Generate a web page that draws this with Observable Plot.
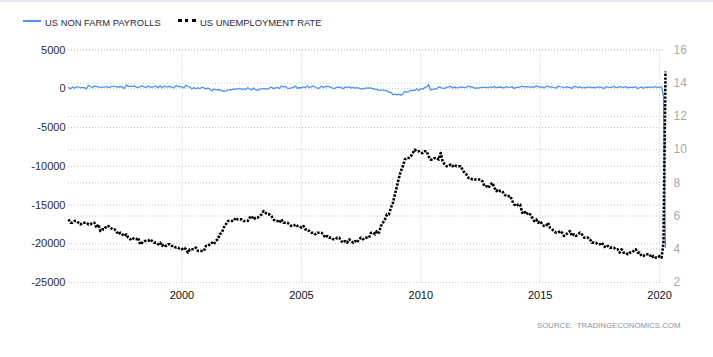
<!DOCTYPE html>
<html>
<head>
<meta charset="utf-8">
<script src="https://cdn.jsdelivr.net/npm/d3@7"></script>
<script src="https://cdn.jsdelivr.net/npm/@observablehq/plot@0.6"></script>
<style>
  html, body { margin: 0; padding: 0; background: #fff; }
  body { width: 713px; height: 357px; position: relative; overflow: hidden; font-family: "Liberation Sans", Arial, sans-serif; }
  #topbar { position: absolute; left: 0; top: 0; width: 713px; height: 2px; background: #e6e6ee; }
  .leg { position: absolute; top: 17px; font-size: 9.4px; color: #2a2a40; line-height: 11px; white-space: nowrap; }
  .sw { position: absolute; height: 0; }
  #chart { position: absolute; left: 0; top: 40px; }
  #source { position: absolute; left: 537px; top: 321px; font-size: 7.8px; color: #8a93a3; white-space: nowrap; }
</style>
</head>
<body>
<div id="topbar"></div>
<div class="sw" style="left:23px;top:19.5px;width:18px;border-top:2px solid #4f94ea;"></div>
<div class="leg" id="leg1" style="left:45px;"></div>
<div class="sw" style="left:178px;top:18.5px;width:18px;border-top:3px dotted #000;"></div>
<div class="leg" id="leg2" style="left:200px;"></div>
<div id="chart"></div>
<div id="source">SOURCE:&nbsp;&nbsp;TRADINGECONOMICS.COM</div>
<script>
// Series names
const seriesNames = ["US NON FARM PAYROLLS", "US UNEMPLOYMENT RATE"];
// First month of the data (year, month index 0-based)
const startYear = 1995, startMonth = 3;

// US unemployment rate, % (monthly, Apr 1995 - Apr 2020)
const unemployment = [
  5.8, 5.6, 5.6, 5.7, 5.7, 5.6, 5.5, 5.6, 5.6,
  5.6, 5.5, 5.5, 5.6, 5.6, 5.3, 5.5, 5.1, 5.2, 5.2, 5.4, 5.4,
  5.3, 5.2, 5.2, 5.1, 4.9, 5.0, 4.9, 4.8, 4.9, 4.7, 4.6, 4.7,
  4.6, 4.6, 4.7, 4.3, 4.4, 4.5, 4.5, 4.5, 4.6, 4.5, 4.4, 4.4,
  4.3, 4.4, 4.2, 4.3, 4.2, 4.3, 4.3, 4.2, 4.2, 4.1, 4.1, 4.0,
  4.0, 4.1, 4.0, 3.8, 4.0, 4.0, 4.0, 4.1, 3.9, 3.9, 3.9, 3.9,
  4.2, 4.2, 4.3, 4.4, 4.3, 4.5, 4.6, 4.9, 5.0, 5.3, 5.5, 5.7,
  5.7, 5.7, 5.7, 5.9, 5.8, 5.8, 5.8, 5.7, 5.7, 5.7, 5.9, 6.0,
  5.8, 5.9, 5.9, 6.0, 6.1, 6.3, 6.2, 6.1, 6.1, 6.0, 5.8, 5.7,
  5.7, 5.6, 5.8, 5.6, 5.6, 5.6, 5.5, 5.4, 5.4, 5.5, 5.4, 5.4,
  5.3, 5.4, 5.2, 5.2, 5.1, 5.0, 5.0, 4.9, 5.0, 5.0, 5.0, 4.9,
  4.7, 4.8, 4.7, 4.7, 4.6, 4.6, 4.7, 4.7, 4.5, 4.4, 4.5, 4.4,
  4.6, 4.5, 4.4, 4.5, 4.4, 4.6, 4.7, 4.6, 4.7, 4.7, 4.7, 5.0,
  5.0, 4.9, 5.1, 5.0, 5.4, 5.6, 5.8, 6.1, 6.1, 6.5, 6.8, 7.3,
  7.8, 8.3, 8.7, 9.0, 9.4, 9.5, 9.5, 9.6, 9.8, 10.0, 9.9, 9.9,
  9.8, 9.8, 9.9, 9.9, 9.6, 9.4, 9.4, 9.5, 9.5, 9.4, 9.8, 9.3,
  9.1, 9.0, 9.0, 9.1, 9.0, 9.1, 9.0, 9.0, 9.0, 8.8, 8.6, 8.5,
  8.3, 8.3, 8.2, 8.2, 8.2, 8.2, 8.2, 8.1, 7.8, 7.8, 7.7, 7.9,
  8.0, 7.7, 7.5, 7.6, 7.5, 7.5, 7.3, 7.2, 7.2, 7.2, 6.9, 6.7,
  6.6, 6.7, 6.7, 6.2, 6.3, 6.1, 6.2, 6.1, 5.9, 5.7, 5.8, 5.6,
  5.7, 5.5, 5.4, 5.4, 5.6, 5.3, 5.2, 5.1, 5.0, 5.0, 5.1, 5.0,
  4.8, 4.9, 5.0, 5.1, 4.8, 4.9, 4.8, 4.9, 5.0, 4.9, 4.7, 4.7,
  4.7, 4.6, 4.4, 4.4, 4.4, 4.3, 4.3, 4.4, 4.2, 4.1, 4.2, 4.1,
  4.1, 4.1, 4.0, 4.0, 3.8, 4.0, 3.8, 3.8, 3.7, 3.8, 3.8, 3.9,
  4.0, 3.8, 3.8, 3.6, 3.6, 3.7, 3.7, 3.7, 3.5, 3.6, 3.5, 3.5,
  3.6, 3.5, 4.4, 14.7
];

// US non farm payrolls, monthly change in thousands (Apr 1995 - Apr 2020)
const payrolls = [
  169, -15, 231, 88, 239, 238, 153, 143, 141,
  -13, 448, 287, 161, 339, 284, 230, 170, 221, 222, 289, 174,
  232, 311, 316, 285, 166, 267, 259, 27, 508, 307, 298, 295,
  375, 188, 160, 262, 386, 230, 137, 362, 225, 209, 278, 343,
  123, 397, 101, 366, 229, 252, 315, 184, 107, 395, 273, 294,
  229, 109, 474, 286, 229, -44, 159, -4, 135, -1, 193, 105,
  -15, 68, -26, -282, -40, -128, -123, -159, -244, -326, -287, -170,
  -132, -150, -24, -85, -8, 45, -101, -2, -109, 125, 7, -156,
  91, -157, -213, -49, -7, -1, 25, -42, 104, 197, 15, 102,
  161, 47, 338, 251, 307, 75, 34, 121, 164, 349, 65, 129,
  131, 241, 131, 366, 163, 242, 370, 194, 67, 81, 336, 159,
  279, 314, 280, 180, 23, 81, 206, 183, 160, 3, 211, 170,
  238, 88, 187, 78, 144, 70, -32, -16, 86, 84, 113, 94,
  17, -84, -78, -210, -185, -165, -209, -266, -452, -473, -769, -695,
  -791, -703, -823, -687, -349, -472, -352, -212, -225, -222, -4, -278,
  15, -63, 163, 233, 511, -169, -78, -12, -60, 257, 134, 84,
  44, 195, 233, 313, 90, 246, 109, 146, 232, 195, 139, 208,
  356, 226, 243, 78, 111, 84, 149, 189, 171, 142, 152, 245,
  190, 279, 136, 196, 226, 162, 122, 261, 190, 212, 258, 47,
  166, 188, 225, 330, 236, 286, 249, 213, 250, 221, 329, 292,
  190, 272, 86, 262, 344, 206, 254, 157, 100, 321, 272, 239,
  126, 237, 225, 153, 43, 297, 291, 135, 249, 124, 154, 155,
  216, 219, 148, 170, 131, 232, 199, 168, 18, 269, 215, 183,
  171, 330, 158, 176, 265, 215, 167, 275, 122, 198, 182, 179,
  269, 1, 147, 210, 85, 182, 194, 207, 208, 185, 261, 184,
  214, 251, -881, -20500
];

// Axis ticks
const leftTicks = [5000, 0, -5000, -10000, -15000, -20000, -25000];
const rightTicks = [16, 14, 12, 10, 8, 6, 4, 2];
const yearTicks = [2000, 2005, 2010, 2015, 2020];

document.getElementById("leg1").textContent = seriesNames[0];
document.getElementById("leg2").textContent = seriesNames[1];

// Build table
const data = payrolls.map((p, i) => ({
  date: new Date(Date.UTC(startYear, startMonth + i, 1)),
  payrolls: p,
  rate: unemployment[i]
}));

// map right axis (rate) into left axis units
const lMin = -25000, lMax = 5000, rMin = 2, rMax = 16;
const toLeft = r => lMin + (r - rMin) * (lMax - lMin) / (rMax - rMin);
const toRight = y => rMin + (y - lMin) * (rMax - rMin) / (lMax - lMin);

const xDomain = [data[0].date, data[data.length - 1].date];
const yearDates = yearTicks.map(y => new Date(Date.UTC(y, 0, 1)));
const gridStyle = { stroke: "#c8c8c8", strokeOpacity: 1, strokeWidth: 1, strokeDasharray: "1,2" };

const chart = Plot.plot({
  width: 713,
  height: 272,
  marginLeft: 68,
  marginRight: 48,
  marginTop: 9.5,
  marginBottom: 30,
  style: { fontFamily: "Liberation Sans, Arial, sans-serif", fontSize: "11px", background: "transparent", overflow: "visible" },
  x: { type: "utc", domain: xDomain },
  y: { domain: [lMin, lMax] },
  marks: [
    Plot.gridY(leftTicks, gridStyle),
    Plot.gridY(rightTicks.map(toLeft), gridStyle),
    Plot.gridX(yearDates, gridStyle),
    Plot.axisY(leftTicks, { anchor: "left", tickSize: 0, tickPadding: 3, tickFormat: d => String(d), label: null, fill: "#2a2a40" }),
    Plot.axisY(rightTicks.map(toLeft), { anchor: "right", tickSize: 0, tickPadding: 8, tickFormat: d => String(Math.round(toRight(d))), label: null, fill: "#aaaaaa", fontSize: 12 }),
    Plot.axisX(yearDates, { tickSize: 0, tickPadding: 9, tickFormat: d => String(d.getUTCFullYear()), label: null, fill: "#111" }),
    Plot.line(data, { x: "date", y: "payrolls", stroke: "#4f94ea", strokeWidth: 1.3 }),
    Plot.line(data, { x: "date", y: d => toLeft(d.rate), stroke: "#000", strokeWidth: 2.6, strokeDasharray: "2.4,1.4", strokeLinecap: "butt" })
  ]
});
document.getElementById("chart").appendChild(chart);
</script>
</body>
</html>
